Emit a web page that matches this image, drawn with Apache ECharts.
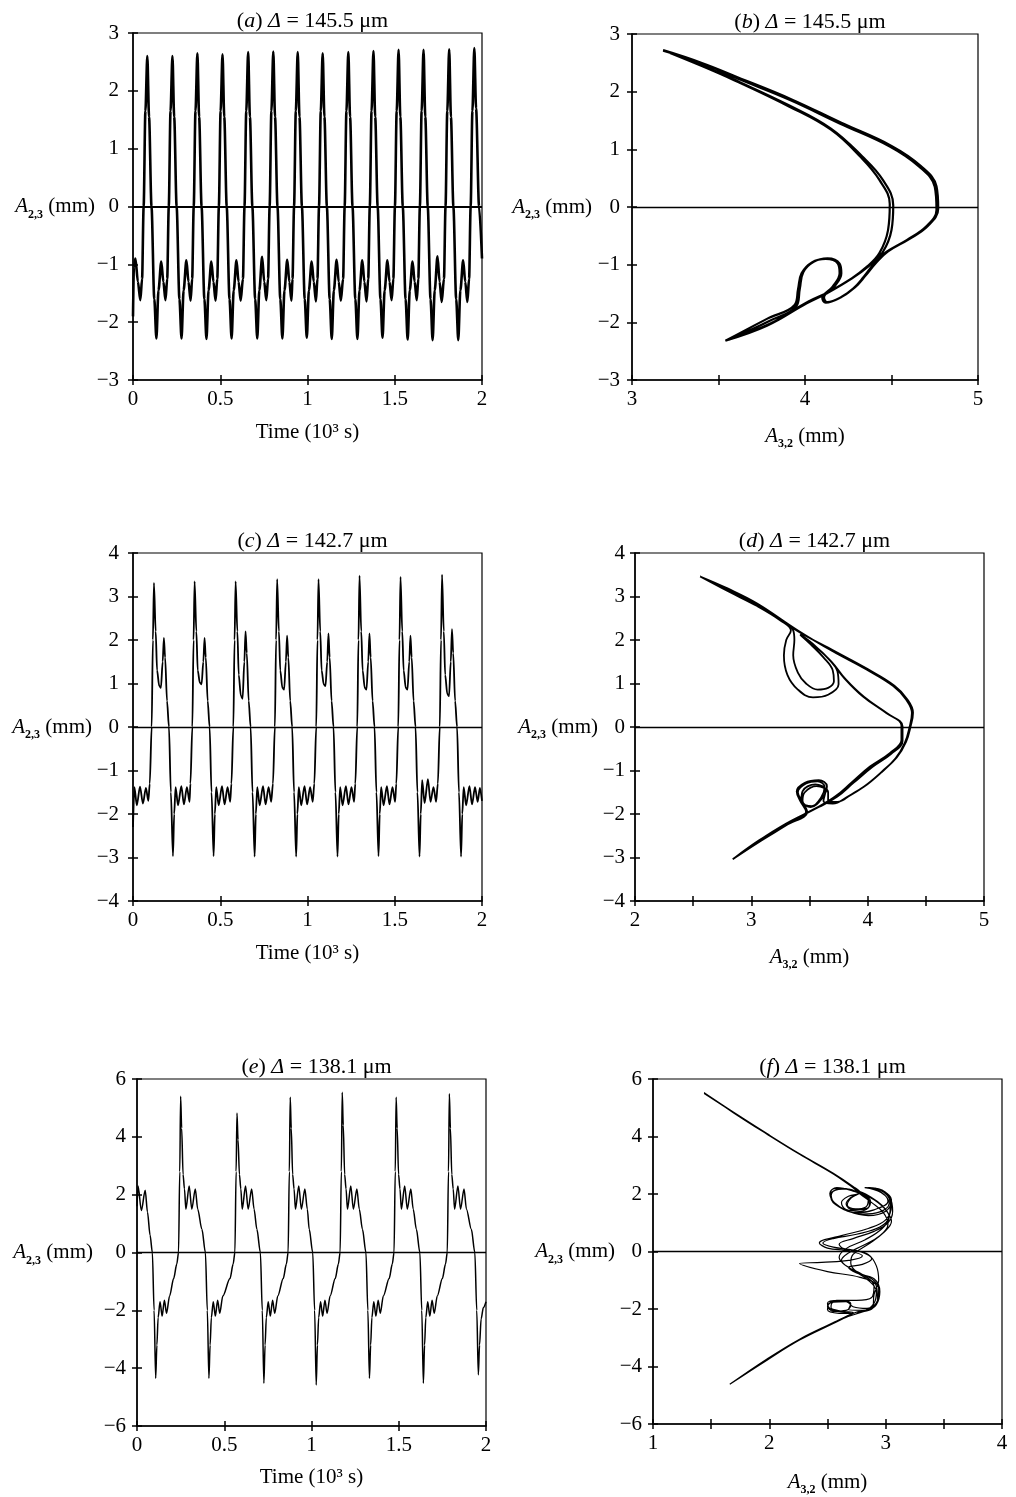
<!doctype html>
<html>
<head>
<meta charset="utf-8">
<title>Mode amplitudes A2,3 / A3,2</title>
<style>
html, body { margin: 0; background: #fff; }
#main { width: 1016px; height: 1497px; }
</style>
</head>
<body>
<div id="main"></div>
<script src="https://cdn.jsdelivr.net/npm/echarts@6/dist/echarts.min.js"></script>
<script>
// panel labels and axis ranges
var letters = ['a', 'b', 'c', 'd', 'e', 'f'];
var deltas = ['145.5', '145.5', '142.7', '142.7', '138.1', '138.1'];
var xLimits = [[0, 2], [3, 5], [0, 2], [2, 5], [0, 2], [1, 4]];
var yLimits = [[-3, 3], [-3, 3], [-4, 4], [-4, 4], [-6, 6], [-6, 6]];
var yStep = [1, 1, 1, 1, 2, 2];

// (a) A2,3 against time, delta = 145.5
var seriesA = [
  [0,-1.9],[0.005,-1.05],[0.014,-0.9],[0.028,-1.3],[0.042,-1.62],
  [0.052,-1.25],[0.061,0],[0.071,1.65],[0.082,2.60],[0.092,1.55],[0.106,0],[0.122,-1.6],[0.134,-2.28],[0.146,-1.45],[0.162,-0.95],[0.174,-1.3],[0.186,-1.62],
  [0.196,-1.25],[0.205,0],[0.215,1.65],[0.226,2.60],[0.236,1.55],[0.250,0],[0.266,-1.6],[0.278,-2.28],[0.290,-1.45],[0.306,-0.93],[0.318,-1.3],[0.330,-1.63],
  [0.339,-1.25],[0.348,0],[0.358,1.65],[0.369,2.65],[0.379,1.55],[0.393,0],[0.409,-1.6],[0.421,-2.29],[0.433,-1.45],[0.449,-0.95],[0.461,-1.3],[0.473,-1.63],
  [0.483,-1.25],[0.492,0],[0.502,1.65],[0.513,2.63],[0.523,1.55],[0.537,0],[0.553,-1.6],[0.565,-2.28],[0.577,-1.45],[0.593,-0.93],[0.605,-1.3],[0.617,-1.63],
  [0.630,-1.25],[0.639,0],[0.649,1.65],[0.660,2.67],[0.670,1.55],[0.684,0],[0.700,-1.6],[0.712,-2.28],[0.724,-1.45],[0.740,-0.87],[0.752,-1.3],[0.764,-1.62],
  [0.774,-1.25],[0.783,0],[0.793,1.65],[0.804,2.68],[0.814,1.55],[0.828,0],[0.844,-1.6],[0.856,-2.28],[0.868,-1.45],[0.884,-0.92],[0.896,-1.3],[0.908,-1.63],
  [0.914,-1.25],[0.923,0],[0.933,1.65],[0.944,2.67],[0.954,1.55],[0.968,0],[0.984,-1.6],[0.996,-2.27],[1.008,-1.45],[1.024,-0.95],[1.036,-1.3],[1.048,-1.64],
  [1.057,-1.25],[1.066,0],[1.076,1.65],[1.087,2.65],[1.097,1.55],[1.111,0],[1.127,-1.6],[1.139,-2.29],[1.151,-1.45],[1.167,-0.92],[1.179,-1.3],[1.191,-1.63],
  [1.204,-1.25],[1.213,0],[1.223,1.65],[1.234,2.67],[1.244,1.55],[1.258,0],[1.274,-1.6],[1.286,-2.29],[1.298,-1.45],[1.314,-0.93],[1.326,-1.3],[1.338,-1.64],
  [1.348,-1.25],[1.357,0],[1.367,1.65],[1.378,2.69],[1.388,1.55],[1.402,0],[1.418,-1.6],[1.430,-2.27],[1.442,-1.45],[1.458,-0.93],[1.470,-1.3],[1.482,-1.62],
  [1.492,-1.25],[1.501,0],[1.511,1.65],[1.522,2.71],[1.532,1.55],[1.546,0],[1.562,-1.6],[1.574,-2.30],[1.586,-1.45],[1.602,-0.95],[1.614,-1.3],[1.626,-1.62],
  [1.635,-1.25],[1.644,0],[1.654,1.65],[1.665,2.71],[1.675,1.55],[1.689,0],[1.705,-1.6],[1.717,-2.31],[1.729,-1.45],[1.745,-0.86],[1.757,-1.3],[1.769,-1.65],
  [1.782,-1.25],[1.791,0],[1.801,1.65],[1.812,2.72],[1.822,1.55],[1.836,0],[1.852,-1.6],[1.864,-2.31],[1.876,-1.45],[1.892,-0.93],[1.904,-1.3],[1.916,-1.65],
  [1.926,-1.25],[1.935,0],[1.945,1.65],[1.956,2.74],[1.966,1.7],[1.983,0],[2.0,-0.9]
];

// (b) phase portrait, two recorded cycles
var cycleB1 = [
  [3.18,2.72],[3.40,2.45],[3.59,2.20],[3.91,1.74],[4.15,1.34],[4.32,0.87],[4.43,0.47],[4.49,0.05],[4.48,-0.40],[4.43,-0.80],[4.36,-1.03],[4.26,-1.26],[4.13,-1.49],[4.01,-1.67],[3.78,-2.06],[3.54,-2.32],
  [3.78,-1.94],[3.94,-1.70],
  [3.96,-1.42],[3.98,-1.15],[4.04,-0.96],[4.12,-0.90],[4.19,-0.98],[4.20,-1.15],[4.16,-1.38],[4.10,-1.58],[4.12,-1.66],[4.20,-1.58],
  [4.28,-1.41],[4.34,-1.21],[4.40,-0.98],[4.47,-0.78],[4.59,-0.57],[4.70,-0.34],[4.76,-0.05],[4.75,0.35],[4.66,0.70],[4.49,1.05],[4.20,1.45],[3.91,1.86],[3.60,2.24],[3.40,2.50],[3.18,2.72]
];
var cycleB2 = [
  [3.18,2.71],[3.40,2.46],[3.59,2.21],[3.91,1.76],[4.15,1.36],[4.33,0.88],[4.45,0.47],[4.51,0.03],[4.50,-0.40],[4.45,-0.78],[4.37,-1.02],[4.27,-1.24],[4.14,-1.47],[4.02,-1.64],[3.80,-2.02],[3.56,-2.30],
  [3.80,-1.97],[3.95,-1.72],
  [3.97,-1.42],[3.99,-1.13],[4.05,-0.95],[4.13,-0.89],[4.20,-0.98],[4.21,-1.15],[4.17,-1.38],[4.11,-1.57],[4.13,-1.65],[4.21,-1.56],
  [4.29,-1.39],[4.35,-1.19],[4.41,-0.97],[4.48,-0.77],[4.60,-0.56],[4.71,-0.33],[4.77,-0.03],[4.76,0.36],[4.67,0.71],[4.50,1.06],[4.21,1.46],[3.92,1.87],[3.61,2.25],[3.40,2.50],[3.18,2.71]
];

// (c) A2,3 against time, delta = 142.7
var seriesC = [
  [0,-2.3],[0.008,-1.38],[0.022,-1.80],[0.040,-1.37],[0.057,-1.76],[0.074,-1.40],[0.088,-1.70],[0.096,-1.30],[0.107,0],[0.114,2.0],
  [0.120,3.31],[0.130,2.2],[0.138,1.3],[0.150,0.95],[0.160,0.90],[0.170,1.5],[0.177,2.05],[0.184,1.6],[0.195,0.6],[0.206,0],[0.217,-1.5],[0.229,-2.97],[0.236,-2.0],[0.244,-1.38],[0.258,-1.80],[0.277,-1.36],[0.292,-1.78],[0.309,-1.38],[0.324,-1.72],[0.329,-1.30],[0.340,0],[0.347,2.0],
  [0.353,3.35],[0.363,2.2],[0.371,1.3],[0.383,1.02],[0.393,0.98],[0.403,1.5],[0.410,2.05],[0.417,1.6],[0.428,0.6],[0.439,0],[0.450,-1.5],[0.462,-2.97],[0.469,-2.0],[0.477,-1.38],[0.491,-1.80],[0.510,-1.36],[0.525,-1.78],[0.542,-1.38],[0.557,-1.72],[0.564,-1.30],[0.575,0],[0.582,2.0],
  [0.588,3.35],[0.598,2.2],[0.606,1.2],[0.618,0.72],[0.628,0.65],[0.638,1.5],[0.645,2.20],[0.652,1.7],[0.663,0.6],[0.674,0],[0.685,-1.5],[0.697,-2.98],[0.704,-2.0],[0.712,-1.38],[0.726,-1.80],[0.745,-1.36],[0.760,-1.78],[0.777,-1.38],[0.792,-1.72],[0.802,-1.30],[0.813,0],[0.820,2.0],
  [0.826,3.40],[0.836,2.2],[0.844,1.3],[0.856,0.90],[0.866,0.86],[0.876,1.5],[0.883,2.10],[0.890,1.6],[0.901,0.6],[0.912,0],[0.923,-1.5],[0.935,-2.98],[0.942,-2.0],[0.950,-1.38],[0.964,-1.80],[0.983,-1.36],[0.998,-1.78],[1.015,-1.38],[1.030,-1.72],[1.039,-1.30],[1.050,0],[1.057,2.0],
  [1.063,3.40],[1.073,2.2],[1.081,1.3],[1.093,0.98],[1.103,0.94],[1.113,1.5],[1.120,2.15],[1.127,1.6],[1.138,0.6],[1.149,0],[1.160,-1.5],[1.172,-2.98],[1.179,-2.0],[1.187,-1.38],[1.201,-1.80],[1.220,-1.36],[1.235,-1.78],[1.252,-1.38],[1.267,-1.72],[1.274,-1.30],[1.285,0],[1.292,2.0],
  [1.298,3.48],[1.308,2.2],[1.316,1.3],[1.328,0.90],[1.338,0.86],[1.348,1.5],[1.355,2.15],[1.362,1.6],[1.373,0.6],[1.384,0],[1.395,-1.5],[1.407,-2.97],[1.414,-2.0],[1.422,-1.38],[1.436,-1.80],[1.455,-1.36],[1.470,-1.78],[1.487,-1.38],[1.502,-1.72],[1.509,-1.30],[1.520,0],[1.527,2.0],
  [1.533,3.45],[1.543,2.2],[1.551,1.3],[1.563,0.90],[1.573,0.86],[1.583,1.5],[1.590,2.10],[1.597,1.6],[1.608,0.6],[1.619,0],[1.630,-1.5],[1.642,-2.98],[1.649,-2.0],[1.657,-1.22],[1.671,-1.75],[1.690,-1.20],[1.705,-1.72],[1.722,-1.38],[1.737,-1.72],[1.747,-1.30],[1.758,0],[1.765,2.0],
  [1.771,3.50],[1.781,2.2],[1.789,1.2],[1.801,0.76],[1.811,0.71],[1.821,1.5],[1.828,2.25],[1.835,1.7],[1.846,0.6],[1.857,0],[1.868,-1.5],[1.880,-2.98],[1.887,-2.0],[1.895,-1.38],[1.909,-1.80],[1.928,-1.36],[1.943,-1.78],[1.960,-1.38],[1.975,-1.72],[1.988,-1.40],[2.0,-1.70]
];

// (d) phase portrait, two recorded cycles
var cycleD1 = [
  [2.56,3.46],[2.80,3.12],[3.05,2.78],[3.25,2.45],[3.34,2.22],
  [3.30,2.00],[3.28,1.65],[3.31,1.20],[3.40,0.86],[3.53,0.68],[3.66,0.74],[3.75,0.98],[3.74,1.28],[3.66,1.58],[3.53,1.90],[3.42,2.13],
  [3.55,1.86],[3.68,1.52],[3.80,1.12],[3.96,0.70],[4.16,0.32],[4.29,0.04],
  [4.29,-0.30],[4.19,-0.60],[4.02,-0.91],[3.86,-1.28],[3.72,-1.60],[3.56,-1.86],[3.30,-2.22],[3.06,-2.62],[2.84,-3.04],
  [3.08,-2.62],[3.30,-2.26],[3.48,-1.95],[3.44,-1.72],[3.40,-1.50],[3.47,-1.30],[3.57,-1.25],[3.63,-1.38],[3.60,-1.62],[3.52,-1.82],[3.43,-1.72],[3.44,-1.48],[3.55,-1.32],[3.64,-1.45],[3.62,-1.70],
  [3.70,-1.76],[3.83,-1.60],[3.97,-1.37],[4.11,-1.06],[4.24,-0.72],[4.32,-0.36],[4.36,0.00],[4.38,0.32],[4.33,0.63],[4.22,0.94],[3.99,1.32],[3.70,1.74],[3.40,2.22],[3.05,2.84],[2.80,3.18],[2.56,3.46]
];
var cycleD2 = [
  [2.56,3.46],[2.80,3.13],[3.05,2.80],[3.25,2.47],[3.36,2.22],
  [3.37,2.00],[3.36,1.65],[3.40,1.25],[3.47,1.00],[3.57,0.86],[3.66,0.90],[3.71,1.05],[3.70,1.30],[3.62,1.60],[3.51,1.90],[3.42,2.12],
  [3.55,1.85],[3.69,1.50],[3.81,1.10],[3.97,0.69],[4.17,0.31],[4.30,0.02],
  [4.30,-0.32],[4.20,-0.62],[4.04,-0.92],[3.88,-1.28],[3.74,-1.60],[3.58,-1.84],[3.32,-2.20],[3.07,-2.60],[2.85,-3.02],
  [3.09,-2.60],[3.31,-2.24],[3.47,-1.95],[3.42,-1.70],[3.39,-1.48],[3.46,-1.28],[3.58,-1.22],[3.65,-1.36],[3.61,-1.63],[3.51,-1.84],[3.44,-1.70],[3.46,-1.50],[3.56,-1.36],[3.66,-1.50],[3.66,-1.72],
  [3.74,-1.72],[3.86,-1.55],[3.99,-1.33],[4.12,-1.03],[4.25,-0.70],[4.33,-0.34],[4.37,0.02],[4.39,0.33],[4.34,0.64],[4.23,0.95],[4.00,1.33],[3.71,1.75],[3.40,2.20],[3.05,2.82],[2.80,3.17],[2.56,3.46]
];

// (e) A2,3 against time, delta = 138.1
var seriesE = [
  [0,1.6],[0.006,2.3],[0.025,1.45],[0.047,2.15],[0.060,1.4],[0.075,0.6],[0.088,0],[0.098,-2.0],[0.107,-4.35],
  [0.114,-3.2],[0.121,-2.25],[0.132,-1.7],[0.144,-2.2],[0.157,-1.65],[0.169,-2.1],[0.187,-1.5],[0.210,-0.9],[0.228,-0.4],[0.238,0],[0.245,2.8],[0.250,5.40],
  [0.256,4.3],[0.264,2.7],[0.272,2.2],[0.280,1.5],[0.299,2.3],[0.314,1.5],[0.334,2.2],[0.348,1.5],[0.372,0.8],[0.392,0],[0.403,-2.0],[0.412,-4.35],
  [0.419,-3.2],[0.426,-2.25],[0.437,-1.7],[0.449,-2.2],[0.462,-1.65],[0.474,-2.1],[0.492,-1.5],[0.533,-0.9],[0.551,-0.4],[0.561,0],[0.568,2.8],[0.573,4.82],
  [0.579,3.9],[0.587,2.7],[0.595,2.2],[0.603,1.5],[0.622,2.3],[0.637,1.5],[0.657,2.2],[0.671,1.5],[0.687,0.8],[0.707,0],[0.718,-2.0],[0.727,-4.52],
  [0.734,-3.2],[0.741,-2.25],[0.752,-1.7],[0.764,-2.2],[0.777,-1.65],[0.789,-2.1],[0.807,-1.5],[0.838,-0.9],[0.856,-0.4],[0.866,0],[0.873,2.8],[0.878,5.37],
  [0.884,4.3],[0.892,2.7],[0.900,2.2],[0.908,1.5],[0.927,2.3],[0.942,1.5],[0.962,2.2],[0.976,1.5],[0.987,0.8],[1.007,0],[1.018,-2.0],[1.027,-4.58],
  [1.034,-3.2],[1.041,-2.25],[1.052,-1.7],[1.064,-2.2],[1.077,-1.65],[1.089,-2.1],[1.107,-1.5],[1.136,-0.9],[1.154,-0.4],[1.164,0],[1.171,2.8],[1.176,5.54],
  [1.182,4.4],[1.190,2.7],[1.198,2.2],[1.206,1.5],[1.225,2.3],[1.240,1.5],[1.260,2.2],[1.274,1.5],[1.292,0.8],[1.312,0],[1.323,-2.0],[1.332,-4.35],
  [1.339,-3.2],[1.346,-2.25],[1.357,-1.7],[1.369,-2.2],[1.382,-1.65],[1.394,-2.1],[1.412,-1.5],[1.445,-0.9],[1.463,-0.4],[1.473,0],[1.480,2.8],[1.485,5.37],
  [1.491,4.3],[1.499,2.7],[1.507,2.2],[1.515,1.5],[1.534,2.3],[1.549,1.5],[1.569,2.2],[1.583,1.5],[1.601,0.8],[1.621,0],[1.632,-2.0],[1.641,-4.52],
  [1.648,-3.2],[1.655,-2.25],[1.666,-1.7],[1.678,-2.2],[1.691,-1.65],[1.703,-2.1],[1.721,-1.5],[1.750,-0.9],[1.768,-0.4],[1.778,0],[1.785,2.8],[1.790,5.49],
  [1.796,4.3],[1.804,2.7],[1.812,2.2],[1.820,1.5],[1.839,2.3],[1.854,1.5],[1.874,2.2],[1.888,1.5],[1.916,0.8],[1.936,0],[1.947,-2.0],[1.956,-4.23],
  [1.963,-3.2],[1.972,-2.3],[1.985,-1.9],[2.0,-1.7]
];

// (f) phase portrait, three recorded cycles
var cycleF1 = [
  [1.44,5.50],[1.69,4.85],[1.98,4.10],[2.26,3.40],[2.55,2.72],[2.72,2.26],[2.78,2.05],
  [2.70,1.88],[2.66,1.65],[2.72,1.45],[2.84,1.50],[2.87,1.75],[2.80,1.98],[2.66,2.18],[2.55,2.10],[2.53,1.85],[2.60,1.55],[2.75,1.35],[2.90,1.45],[3.02,1.75],[2.95,2.10],[2.85,2.22],[2.95,2.15],[3.04,1.70],[3.03,1.20],[2.95,0.85],[2.75,0.60],[2.55,0.45],[2.46,0.30],[2.55,0.15],[2.72,0.05],[2.85,-0.10],[2.92,-0.50],[2.94,-1.00],[2.90,-1.50],[2.89,-1.95],[2.80,-2.10],[2.62,-2.35],[2.26,-3.07],[1.98,-3.76],[1.66,-4.62],
  [1.98,-3.74],[2.26,-3.05],[2.55,-2.47],[2.72,-2.12],[2.62,-2.10],[2.52,-1.98],[2.50,-1.80],[2.60,-1.70],[2.70,-1.82],[2.68,-2.02],[2.80,-2.05],[2.90,-1.80],[2.92,-1.40],[2.85,-1.00],[2.70,-0.60],[2.62,-0.30],[2.68,-0.05],[2.80,0.20],[2.95,0.55],[3.02,0.95],[2.98,1.35],[2.88,1.70],[2.78,2.00],[2.72,2.22],[2.55,2.72],[2.26,3.40],[1.98,4.10],[1.69,4.85],[1.44,5.52]
];
var cycleF2 = [
  [1.44,5.50],[1.69,4.83],[1.98,4.08],[2.26,3.38],[2.55,2.70],[2.72,2.24],[2.78,2.04],
  [2.68,1.92],[2.62,1.70],[2.66,1.46],[2.78,1.40],[2.86,1.60],[2.84,1.88],[2.72,2.10],[2.58,2.22],[2.52,2.02],[2.56,1.70],[2.68,1.40],[2.85,1.25],[3.00,1.40],[3.05,1.80],[2.98,2.10],[2.88,2.20],[3.00,2.05],[3.05,1.60],[3.00,1.10],[2.85,0.80],[2.62,0.55],[2.43,0.30],[2.50,0.12],[2.68,0.02],[2.80,-0.15],[2.70,-0.30],[2.45,-0.38],[2.26,-0.42],[2.50,-0.70],[2.78,-0.90],[2.92,-1.20],[2.93,-1.70],[2.86,-2.02],[2.72,-2.15],[2.55,-2.49],[2.26,-3.07],[1.98,-3.76],[1.66,-4.62],
  [1.98,-3.78],[2.26,-3.08],[2.55,-2.50],[2.72,-2.16],[2.60,-2.15],[2.50,-2.02],[2.52,-1.80],[2.63,-1.72],[2.70,-1.88],[2.66,-2.05],[2.55,-2.08],[2.50,-1.90],[2.58,-1.70],[2.75,-1.70],[2.88,-1.60],[2.90,-1.20],[2.80,-0.80],[2.66,-0.50],[2.60,-0.20],[2.66,0.10],[2.82,0.40],[2.97,0.80],[3.03,1.20],[2.97,1.60],[2.85,1.95],[2.75,2.15],[2.55,2.70],[2.26,3.39],[1.98,4.09],[1.69,4.84],[1.44,5.50]
];
var cycleF3 = [
  [1.44,5.50],[1.69,4.84],[1.98,4.09],[2.26,3.40],[2.55,2.71],[2.72,2.25],[2.77,2.06],
  [2.70,1.85],[2.67,1.62],[2.74,1.48],[2.83,1.55],[2.85,1.78],[2.78,2.02],[2.63,2.20],[2.53,2.12],[2.54,1.80],[2.64,1.48],[2.80,1.30],[2.95,1.38],[3.03,1.68],[2.96,2.05],[2.82,2.22],[2.94,2.18],[3.04,1.85],[3.06,1.40],[3.02,1.00],[2.90,0.70],[2.72,0.45],[2.60,0.25],[2.64,0.10],[2.78,0.00],[2.88,-0.25],[2.80,-0.45],[2.68,-0.55],[2.75,-0.75],[2.90,-0.95],[2.95,-1.40],[2.92,-1.85],[2.85,-2.05],[2.74,-2.12],[2.56,-2.48],[2.26,-3.06],[1.98,-3.75],[1.66,-4.62],
  [1.98,-3.77],[2.26,-3.06],[2.55,-2.48],[2.72,-2.13],[2.63,-2.08],[2.53,-1.95],[2.55,-1.76],[2.66,-1.74],[2.72,-1.92],[2.84,-1.98],[2.93,-1.70],[2.94,-1.30],[2.88,-0.95],[2.75,-0.70],[2.70,-0.40],[2.72,-0.10],[2.85,0.25],[2.98,0.65],[3.05,1.05],[3.00,1.45],[2.90,1.80],[2.78,2.05],[2.72,2.25],[2.55,2.71],[2.26,3.40],[1.98,4.09],[1.69,4.84],[1.44,5.50]
];

var panelData = [
  seriesA,
  cycleB1.concat(cycleB2),
  seriesC,
  cycleD1.concat(cycleD2),
  seriesE,
  cycleF1.concat(cycleF2, cycleF3)
];

// layout and styling
var font = 'Liberation Serif';
var gridBoxes = [[133, 33, 349, 347], [632, 34, 346, 346], [133, 553, 349, 348], [635, 553, 349, 348], [137, 1079, 349, 347], [653, 1079, 349, 347]];
var lineWidths = [2.6, 2.2, 1.8, 1.8, 1.5, 1.2];
var yNameGaps = [38, 40, 41, 37, 44, 38];
var yLabelMargins = [14, 12, 14, 10, 11, 11];
var xNameGaps = [42, 42, 42, 42, 41, 44];

var nameRich = {
  a: { fontFamily: font, fontSize: 21, fontStyle: 'italic', color: '#000', verticalAlign: 'middle' },
  s: { fontFamily: font, fontSize: 12, fontWeight: 'bold', color: '#000', verticalAlign: 'bottom', lineHeight: 28 },
  n: { fontFamily: font, fontSize: 21, color: '#000', verticalAlign: 'middle' }
};

function minusLabel(v) {
  return v < 0 ? '\u2212' + (-v) : String(v);
}

var grids = [], xAxes = [], yAxes = [], titles = [], series = [];

gridBoxes.forEach(function (b, i) {
  var phase = (i % 2 === 1);
  grids.push({ left: b[0], top: b[1], width: b[2], height: b[3], show: true, borderColor: '#000', borderWidth: 1.2, containLabel: false });

  titles.push({
    text: '({i|' + letters[i] + '}) {i|\u0394} = ' + deltas[i] + ' \u03bcm',
    left: b[0] + b[2] / 2,
    top: b[1] - 28,
    textAlign: 'center',
    textStyle: {
      fontFamily: font, fontSize: 22, fontWeight: 'normal', color: '#000',
      rich: { i: { fontFamily: font, fontSize: 22, fontStyle: 'italic', color: '#000' } }
    }
  });

  xAxes.push({
    type: 'value', gridIndex: i, min: xLimits[i][0], max: xLimits[i][1], interval: 0.5,
    name: phase ? '{a|A}{s|3,2}{n| (mm)}' : 'Time (10\u00b3 s)',
    nameLocation: 'middle', nameGap: xNameGaps[i], nameMoveOverlap: false,
    nameTextStyle: { fontFamily: font, fontSize: 21, color: '#000', rich: nameRich },
    axisLine: { show: true, onZero: false, lineStyle: { color: '#000', width: 1.5 } },
    axisTick: { show: true, length: 5, lineStyle: { color: '#000', width: 1.5 } },
    axisLabel: {
      margin: 9, fontFamily: font, fontSize: 21, color: '#000',
      formatter: function (v) { return phase ? (v % 1 === 0 ? String(v) : '') : String(v); }
    },
    splitLine: { show: false }
  });

  yAxes.push({
    type: 'value', gridIndex: i, min: yLimits[i][0], max: yLimits[i][1], interval: yStep[i],
    name: '{a|A}{s|2,3}{n| (mm)}',
    nameLocation: 'middle', nameRotate: 0, nameGap: yNameGaps[i], nameMoveOverlap: false,
    nameTextStyle: { fontFamily: font, fontSize: 21, color: '#000', rich: nameRich },
    axisLine: { show: true, onZero: false, lineStyle: { color: '#000', width: 1.5 } },
    axisTick: { show: true, length: 5, lineStyle: { color: '#000', width: 1.5 } },
    axisLabel: { margin: yLabelMargins[i], fontFamily: font, fontSize: 21, color: '#000', formatter: minusLabel },
    splitLine: { show: false }
  });

  series.push({
    type: 'line', xAxisIndex: i, yAxisIndex: i,
    data: panelData[i],
    showSymbol: false, symbol: 'none',
    smooth: phase ? 0.4 : 0.3,
    smoothMonotone: phase ? null : 'x',
    silent: true, animation: false,
    lineStyle: { color: '#000', width: lineWidths[i] },
    markLine: {
      silent: true, symbol: ['none', 'none'], animation: false,
      label: { show: false },
      lineStyle: { color: '#000', width: i === 0 ? 2 : 1.3, type: 'solid' },
      data: [{ yAxis: 0 }]
    }
  });
});

// second set of axes: the inner half of each crossing tick
gridBoxes.forEach(function (b, i) {
  xAxes.push({
    type: 'value', gridIndex: i, min: xLimits[i][0], max: xLimits[i][1], interval: 0.5, position: 'bottom',
    axisLine: { show: false, onZero: false }, axisLabel: { show: false }, splitLine: { show: false },
    axisTick: { show: true, inside: true, length: 5, lineStyle: { color: '#000', width: 1.5 } }
  });
  yAxes.push({
    type: 'value', gridIndex: i, min: yLimits[i][0], max: yLimits[i][1], interval: yStep[i], position: 'left',
    axisLine: { show: false, onZero: false }, axisLabel: { show: false }, splitLine: { show: false },
    axisTick: { show: true, inside: true, length: 5, lineStyle: { color: '#000', width: 1.5 } }
  });
});

var chart = echarts.init(document.getElementById('main'));
chart.setOption({
  backgroundColor: '#fff',
  animation: false,
  title: titles,
  grid: grids,
  xAxis: xAxes,
  yAxis: yAxes,
  series: series
});

window.onresize = chart.resize;
</script>
</body>
</html>
